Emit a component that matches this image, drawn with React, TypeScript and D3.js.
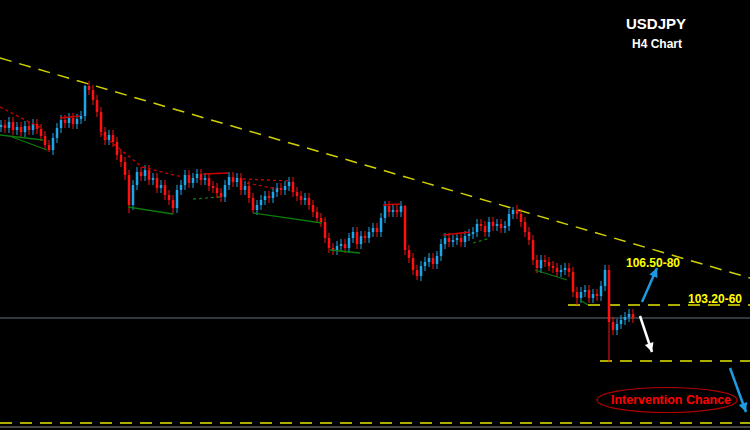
import React from "react";
import * as d3 from "d3";

const W = 750;
const H = 430;

// H4 closes (one per bar)
const closes: number[] = [
  112.40,112.25,112.55,112.15,112.30,112.05,112.35,112.15,112.45,112.20,
  111.85,111.40,111.15,111.75,112.25,112.65,112.50,112.75,112.45,112.70,
  112.85,114.35,114.15,113.65,113.05,112.05,111.65,111.90,111.55,110.90,
  110.55,109.90,108.40,109.40,110.05,109.85,110.15,109.65,109.75,109.25,
  109.40,108.90,108.65,108.25,109.15,109.40,109.90,109.50,109.75,109.95,
  109.65,109.75,109.35,109.25,109.00,108.80,109.40,109.80,109.55,109.75,
  109.15,109.35,108.75,108.15,108.40,108.65,108.85,108.75,109.05,109.25,
  109.15,109.35,109.55,109.05,108.85,108.65,108.75,108.40,108.05,107.75,
  107.55,106.75,106.25,106.15,106.35,106.45,106.25,106.75,107.05,106.45,
  106.85,106.75,107.05,107.25,107.05,107.75,108.35,108.05,108.15,108.05,
  108.35,106.15,105.75,105.15,104.85,105.35,105.55,105.75,105.45,105.85,
  106.45,106.75,106.55,106.65,106.75,106.55,106.85,106.95,107.05,107.45,
  107.35,107.05,107.55,107.35,107.45,107.25,107.35,107.95,108.15,107.95,
  107.55,107.05,106.65,105.65,105.25,105.65,105.55,105.35,105.25,105.05,
  105.15,105.25,105.05,104.05,103.75,104.05,104.15,103.75,103.95,103.85,
  104.35,105.15,102.55,102.15,102.45,102.65,102.80,102.95,102.75,
];
const firstOpen = 112.30;
// notable wick extremes [barIndex, price]
const highExtremes: [number, number][] = [[21, 114.40], [128, 108.30], [151, 105.40], [101, 108.40]];
const lowExtremes: [number, number][] = [[12, 111.05], [32, 107.99], [43, 107.95], [63, 108.0], [104, 104.65], [152, 100.55], [144, 103.40]];

// resistance lines (red) [i1,p1,i2,p2,dotted]
const redLines: [number, number, number, number, boolean][] = [
  [-0.25, 113.30, 10.5, 112.20, true],
  [14.75, 112.75, 19.75, 112.85, false],
  [24.75, 112.00, 35.25, 110.30, true],
  [35.25, 110.30, 45.25, 109.80, true],
  [50.5, 109.95, 56.75, 110.00, false],
  [60.5, 109.70, 72.25, 109.60, true],
  [61.5, 109.50, 69, 109.20, true],
  [95.5, 108.40, 99.75, 108.45, false],
  [110.5, 106.90, 117.25, 107.05, false],
];
// support lines (green)
const greenLines: [number, number, number, number, boolean][] = [
  [-0.25, 111.90, 10.5, 111.65, false],
  [2.75, 111.80, 11.5, 111.15, false],
  [31.75, 108.30, 43, 107.95, false],
  [48, 108.70, 54.75, 108.80, true],
  [63, 108.00, 80.25, 107.50, false],
  [82.25, 106.15, 89.75, 106.00, false],
  [118, 106.50, 122.25, 106.75, true],
  [133.5, 105.15, 141.5, 104.65, false],
  [144.75, 103.65, 146.75, 103.40, false],
];
// yellow trendline / levels
const trendLine: [number, number, number, number] = [-0.25, 115.75, 187.25, 104.75];
const levels: [number, number, number][] = [
  [141.75, 187.25, 103.40],
  [149.75, 187.25, 100.60],
  [-0.25, 187.25, 97.50],
];
const currentPrice = 102.75;
const bottomLine = 97.30;
// arrows [i1,p1,i2,p2,color]
const arrows: [number, number, number, number, string][] = [
  [160.25, 103.55, 164, 105.25, "#1e9be0"],
  [159.75, 102.85, 162.75, 101.05, "#ffffff"],
  [182.25, 100.25, 186.25, 98.05, "#1e9be0"],
];

export default function App() {
  const x = d3.scaleLinear().domain([0, closes.length - 1]).range([1, 633]);
  const y = d3.scaleLinear().domain([97.15, 118.65]).range([H, 0]);
  const hiMap = new Map(highExtremes);
  const loMap = new Map(lowExtremes);
  const bars = closes.map((c, i) => {
    const o = i === 0 ? firstOpen : closes[i - 1];
    const hi = hiMap.get(i) ?? Math.max(o, c) + 0.25;
    const lo = loMap.get(i) ?? Math.min(o, c) - 0.25;
    return { i, o, c, hi, lo };
  });
  const font = "'Liberation Sans', Arial, sans-serif";

  const arrowHead = (x1: number, y1: number, x2: number, y2: number) => {
    const a = Math.atan2(y2 - y1, x2 - x1);
    const L = 9, Wd = 4.5;
    const bx = x2 - L * Math.cos(a), by = y2 - L * Math.sin(a);
    const px = -Math.sin(a) * Wd, py = Math.cos(a) * Wd;
    return `${x2},${y2} ${bx + px},${by + py} ${bx - px},${by - py}`;
  };

  return (
    <svg width={W} height={H} style={{ position: "fixed", left: 0, top: 0, background: "#000" }}>
      <rect x={0} y={0} width={W} height={H} fill="#000" />
      {/* current price line */}
      <line x1={0} x2={W} y1={y(currentPrice)} y2={y(currentPrice)} stroke="#60727f" strokeWidth={1.2} />
      <line x1={0} x2={W} y1={y(bottomLine)} y2={y(bottomLine)} stroke="#8a8a8a" strokeWidth={1} />
      {/* trend line */}
      <line x1={x(trendLine[0])} y1={y(trendLine[1])} x2={x(trendLine[2])} y2={y(trendLine[3])}
        stroke="#d0d000" strokeWidth={1.5} strokeDasharray="12,8" />
      {levels.map((l, k) => (
        <line key={k} x1={x(l[0])} x2={x(l[1])} y1={y(l[2])} y2={y(l[2])}
          stroke="#e6e600" strokeWidth={1.5} strokeDasharray="12,8" />
      ))}
      {/* candles */}
      {bars.map((b) => {
        const col = b.c >= b.o ? "#1ea6ec" : "#ff1010";
        const top = y(Math.max(b.o, b.c));
        const bot = y(Math.min(b.o, b.c));
        return (
          <g key={b.i}>
            <line x1={x(b.i)} x2={x(b.i)} y1={y(b.hi)} y2={y(b.lo)} stroke={col} strokeWidth={1} />
            <rect x={x(b.i) - 1.25} y={top} width={2.5} height={Math.max(1, bot - top)} fill={col} />
          </g>
        );
      })}
      {/* zigzag lines */}
      {redLines.map((l, k) => (
        <line key={"r" + k} x1={x(l[0])} y1={y(l[1])} x2={x(l[2])} y2={y(l[3])}
          stroke="#d00000" strokeWidth={1.3} strokeDasharray={l[4] ? "3,3" : undefined} />
      ))}
      {greenLines.map((l, k) => (
        <line key={"g" + k} x1={x(l[0])} y1={y(l[1])} x2={x(l[2])} y2={y(l[3])}
          stroke="#0a7a0a" strokeWidth={1.3} strokeDasharray={l[4] ? "3,3" : undefined} />
      ))}
      {/* arrows */}
      {arrows.map((a, k) => {
        const x1 = x(a[0]), y1 = y(a[1]), x2 = x(a[2]), y2 = y(a[3]);
        return (
          <g key={"a" + k}>
            <line x1={x1} y1={y1} x2={x2} y2={y2} stroke={a[4]} strokeWidth={2.5} />
            <polygon points={arrowHead(x1, y1, x2, y2)} fill={a[4]} />
          </g>
        );
      })}
      {/* labels */}
      <text x={656} y={29} fill="#fff" fontFamily={font} fontWeight="bold" fontSize={15} textAnchor="middle">USDJPY</text>
      <text x={657} y={48} fill="#fff" fontFamily={font} fontWeight="bold" fontSize={12} textAnchor="middle">H4 Chart</text>
      <text x={626} y={267} fill="#ffff00" fontFamily={font} fontWeight="bold" fontSize={12}>106.50-80</text>
      <text x={688} y={303} fill="#ffff00" fontFamily={font} fontWeight="bold" fontSize={12}>103.20-60</text>
      <ellipse cx={667} cy={400} rx={70} ry={12.5} fill="none" stroke="#b00000" strokeWidth={1.2} />
      <text x={671} y={404} fill="#ff0000" fontFamily={font} fontWeight="bold" fontSize={12.5} textAnchor="middle">Intervention Chance</text>
    </svg>
  );
}
